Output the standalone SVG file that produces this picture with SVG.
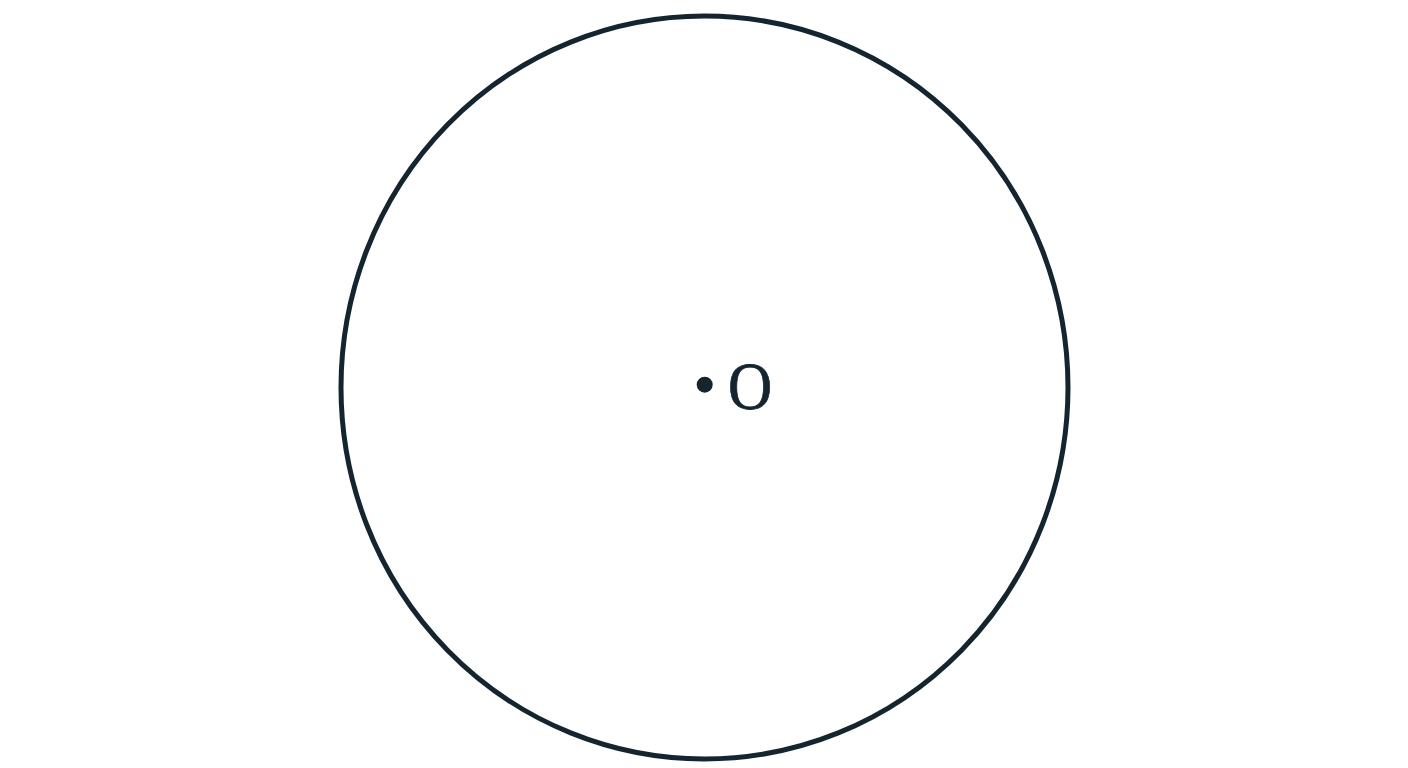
<svg xmlns="http://www.w3.org/2000/svg" width="1408" height="768" viewBox="0 0 1408 768">
<style>
.ln{fill:none;stroke:#15252f;stroke-width:5}
.lbl{font-family:"Liberation Serif","DejaVu Serif",serif;font-size:68px;fill:#15252f;stroke:#15252f;stroke-width:0.8}
</style>
<rect width="1408" height="768" fill="#ffffff"/>
<g id="circle">
<ellipse class="ln" cx="704.5" cy="387.5" rx="363.5" ry="371.5"/>
</g>
<g id="center">
<circle cx="704.7" cy="384.7" r="8" fill="#15252f"/>
<text class="lbl" x="0" y="0" transform="translate(728,409) scale(0.9,1)">O</text>
</g>
</svg>
